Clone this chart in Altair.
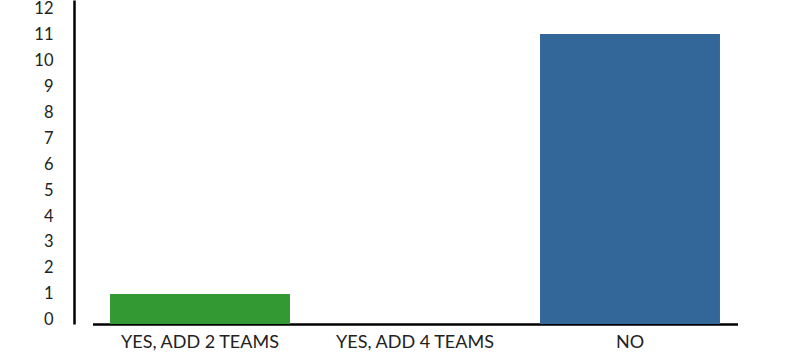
import altair as alt
import pandas as pd

categories = ["YES, ADD 2 TEAMS", "YES, ADD 4 TEAMS", "NO"]
values = [1, 0, 11]
colors = ["#339933", "#339933", "#336699"]
y_ticks = list(range(0, 13))
y_min, y_max = -0.154, 12.308

df = pd.DataFrame({"category": categories, "value": values, "color": colors})

FONT = "Lato"

chart = alt.Chart(df).transform_filter("datum.value > 0").mark_bar().encode(
    x=alt.X(
        "category:N",
        sort=categories,
        scale=alt.Scale(domain=categories, range=[18.5, 663.5], paddingInner=0.163, paddingOuter=0.0815),
        axis=alt.Axis(
            title=None, labelAngle=0, ticks=False, domainColor="#000000",
            domainWidth=2.5, labelFont=FONT, labelFontSize=18, labelColor="#222222",
            labelPadding=9,
        ),
    ),
    y=alt.Y(
        "value:Q",
        scale=alt.Scale(domain=[y_min, y_max], nice=False, zero=False),
        axis=alt.Axis(
            title=None, values=y_ticks, ticks=False, grid=False, domainColor="#000000",
            domainWidth=2.5, labelFont=FONT, labelFontSize=16.5, labelColor="#222222",
            labelPadding=21, labelFlush=False, labelBaseline="middle",
        ),
    ),
    y2=alt.datum(y_min),
    color=alt.Color("color:N", scale=None, legend=None),
).properties(
    width=663,
    height=324,
    autosize=alt.AutoSizeParams(type="none"),
    padding={"left": 74, "top": 0, "right": 63, "bottom": 28},
    background="#ffffff",
).configure_view(stroke=None)

chart.save("out.html", embed_options={"renderer": "svg", "actions": False})
